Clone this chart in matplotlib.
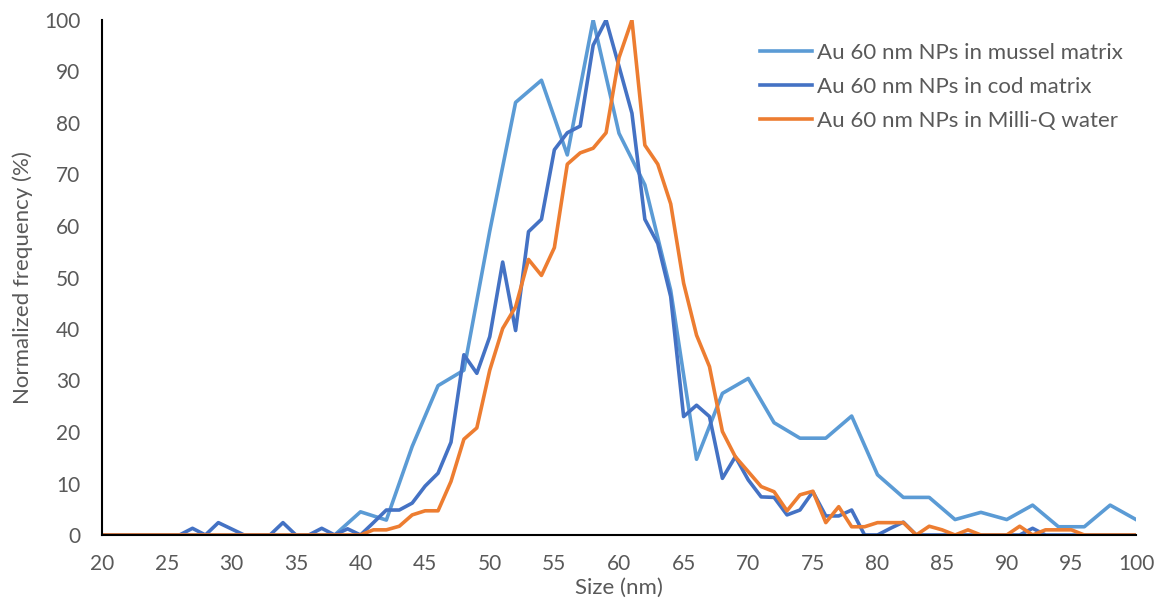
import numpy as np
import matplotlib
matplotlib.use("Agg")
import matplotlib.pyplot as plt

plt.rcParams['font.family'] = ['Lato', 'DejaVu Sans']

# mussel matrix: 2 nm steps
mussel_x = list(range(20, 101, 2))
mussel_y = [0, 0, 0, 0, 0, 0, 0, 0, 0, 0,          # 20-38
            4.5, 2.9, 17.2, 29, 32, 59, 84, 88.3, 73.8, 100,   # 40-58
            78, 68, 47.5, 14.7, 27.5, 30.4, 21.8, 18.8, 18.8, 23.1,  # 60-78
            11.7, 7.3, 7.3, 3.0, 4.4, 3.0, 5.8, 1.6, 1.6, 5.8,  # 80-98
            3.0]                                              # 100

# cod matrix: 1 nm steps
cod_x = list(range(20, 101))
cod_y = [0, 0, 0, 0, 0, 0, 0, 1.3, 0, 2.4,       # 20-29
         1.2, 0, 0, 0, 2.4, 0, 0, 1.3, 0, 1.2,    # 30-39
         0, 2.4, 4.85, 4.85, 6.2, 9.5, 12, 18, 35, 31.4,   # 40-49
         38.5, 53, 39.7, 58.9, 61.3, 74.8, 78.1, 79.4, 95.1, 100,  # 50-59
         91, 81.9, 61.3, 56.6, 46.3, 23, 25.2, 23, 11, 15.2,  # 60-69
         10.7, 7.4, 7.3, 3.9, 4.85, 8.4, 3.7, 3.7, 4.85, 0,   # 70-79
         0, 1.3, 2.5, 0, 0, 0, 0, 0, 0, 0,                 # 80-89
         0, 0, 1.3, 0, 0, 0, 0, 0, 0, 0,                   # 90-99
         0]                                                # 100

# Milli-Q water: 1 nm steps
water_x = list(range(20, 101))
water_y = [0, 0, 0, 0, 0, 0, 0, 0, 0, 0,          # 20-29
           0, 0, 0, 0, 0, 0, 0, 0, 0, 0,          # 30-39
           0, 1, 1, 1.7, 3.9, 4.7, 4.7, 10.4, 18.6, 20.8,    # 40-49
           32, 40.1, 44.3, 53.5, 50.4, 55.8, 72, 74.2, 75.1, 78.1,  # 50-59
           92.7, 100, 75.7, 72, 64.3, 48.9, 38.8, 32.7, 20.1, 15.2,  # 60-69
           12.3, 9.4, 8.4, 4.7, 7.8, 8.5, 2.4, 5.5, 1.6, 1.6,   # 70-79
           2.4, 2.4, 2.4, 0, 1.7, 1, 0, 1, 0, 0,             # 80-89
           0, 1.7, 0, 1, 1, 1, 0, 0, 0, 0,                   # 90-99
           0]                                                # 100

labels = ["Au 60 nm NPs in mussel matrix",
          "Au 60 nm NPs in cod matrix",
          "Au 60 nm NPs in Milli-Q water"]
colors = ["#5B9BD5", "#4472C4", "#ED7D31"]
grey = "#595959"

fig = plt.figure(figsize=(11.56, 6.01), dpi=100)
ax = fig.add_axes([102 / 1156, 1 - 535 / 601, (1136 - 102) / 1156, (535 - 20) / 601])

ax.plot(mussel_x, mussel_y, color=colors[0], lw=2.6, label=labels[0], solid_joinstyle='round')
ax.plot(cod_x, cod_y, color=colors[1], lw=2.6, label=labels[1], solid_joinstyle='round')
ax.plot(water_x, water_y, color=colors[2], lw=2.6, label=labels[2], solid_joinstyle='round')

ax.set_xlim(20, 100)
ax.set_ylim(0, 100)
ax.set_xticks(range(20, 101, 5))
ax.set_yticks(range(0, 101, 10))
ax.tick_params(length=0, labelsize=15, labelcolor=grey)
ax.tick_params(axis='y', pad=15.5)
ax.tick_params(axis='x', pad=13.5)

for s in ["top", "right"]:
    ax.spines[s].set_visible(False)
for s in ["left", "bottom"]:
    ax.spines[s].set_color("black")
    ax.spines[s].set_linewidth(1.5)

ax.set_xlabel("Size (nm)", fontsize=16, color=grey, labelpad=3)
ax.set_ylabel("Normalized frequency (%)", fontsize=16, color=grey, labelpad=8)

leg = ax.legend(loc="upper left", bbox_to_anchor=(760 / 1156, 1 - 43 / 601),
                bbox_transform=fig.transFigure, frameon=False,
                fontsize=16, labelcolor=grey, handlelength=2.35,
                handletextpad=0.22, labelspacing=0.62,
                borderpad=0, borderaxespad=0)

fig.savefig("out.png", dpi=100)
